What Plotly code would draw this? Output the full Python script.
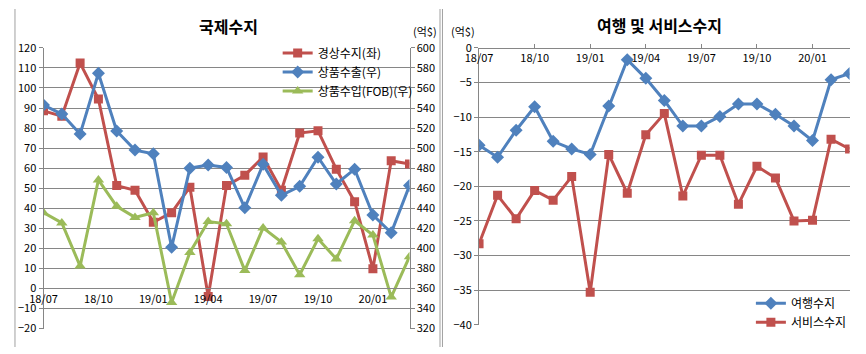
import plotly.graph_objects as go

months = ["18/07", "18/08", "18/09", "18/10", "18/11", "18/12", "19/01", "19/02", "19/03",
          "19/04", "19/05", "19/06", "19/07", "19/08", "19/09", "19/10", "19/11", "19/12",
          "20/01", "20/02", "20/03"]
tick_labels = ["18/07", "18/10", "19/01", "19/04", "19/07", "19/10", "20/01"]

current_account = [88.6, 85.9, 112.4, 94.5, 51.3, 49.0, 33.0, 37.8, 50.5, -4.0, 51.3, 56.5,
                   65.6, 49.0, 77.5, 78.6, 59.5, 43.3, 9.8, 63.7, 62.1]
goods_exports = [543, 534, 514, 574.7, 517, 498, 494.3, 401, 480, 483.2, 480.7, 440.4,
                 483.8, 453, 461.9, 491, 464.2, 479, 433.3, 415.6, 462.6]
goods_imports = [435.6, 425.4, 382.3, 468.3, 442, 430.9, 435.6, 346, 396, 426.7, 424.5, 377.8,
                 420.4, 406.4, 373.7, 409.5, 389.5, 427.6, 413.3, 351.4, 391.7]

travel = [-14.07, -15.8, -11.9, -8.5, -13.5, -14.6, -15.4, -8.4, -1.7, -4.4, -7.6, -11.3,
          -11.3, -9.9, -8.1, -8.1, -9.6, -11.3, -13.4, -4.6, -3.7]
services = [-28.3, -21.3, -24.7, -20.6, -22.0, -18.6, -35.3, -15.4, -21.0, -12.55, -9.5, -21.4,
            -15.5, -15.5, -22.6, -17.1, -18.8, -25.0, -24.9, -13.2, -14.6]

RED = "#C0504D"
BLUE = "#4F81BD"
GREEN = "#9BBB59"
GRID = "#868686"
FONT = "Noto Sans CJK KR"

W, H = 866, 354
def px(x):
    return x / W
def py(y):
    return 1 - y / H

fig = go.Figure()

fig.add_trace(go.Scatter(x=months, y=current_account, name="경상수지(좌)", mode="lines+markers",
                         line=dict(color=RED, width=3), marker=dict(symbol="square", size=9, color=RED),
                         xaxis="x", yaxis="y", legend="legend"))
fig.add_trace(go.Scatter(x=months, y=goods_exports, name="상품수출(우)", mode="lines+markers",
                         line=dict(color=BLUE, width=3), marker=dict(symbol="diamond", size=10, color=BLUE),
                         xaxis="x", yaxis="y2", legend="legend"))
fig.add_trace(go.Scatter(x=months, y=goods_imports, name="상품수입(FOB)(우)", mode="lines+markers",
                         line=dict(color=GREEN, width=3), marker=dict(symbol="triangle-up", size=10, color=GREEN),
                         xaxis="x", yaxis="y2", legend="legend"))

fig.add_trace(go.Scatter(x=months, y=travel, name="여행수지", mode="lines+markers",
                         line=dict(color=BLUE, width=3), marker=dict(symbol="diamond", size=10, color=BLUE),
                         xaxis="x2", yaxis="y3", legend="legend2"))
fig.add_trace(go.Scatter(x=months, y=services, name="서비스수지", mode="lines+markers",
                         line=dict(color=RED, width=3), marker=dict(symbol="square", size=9, color=RED),
                         xaxis="x2", yaxis="y3", legend="legend2"))

tick_font = dict(family=FONT, size=11, color="#000000")

left_dom = [px(30), px(402)]
right_dom = [px(472.7), px(849.3)]
ydom_left = [py(334.7), py(40.7)]
ydom_right = [py(330.7), py(40.7)]

fig.update_layout(
    width=W, height=H,
    margin=dict(l=0, r=0, t=0, b=0),
    paper_bgcolor="white", plot_bgcolor="white",
    font=dict(family=FONT, size=11, color="#000000"),
    xaxis=dict(domain=left_dom, type="category", range=[0, 20], anchor="free",
               position=py(292.7), side="bottom", tickmode="array", tickvals=tick_labels,
               ticktext=tick_labels, showgrid=False, showline=True, linecolor=GRID, linewidth=1,
               ticks="", tickfont=tick_font, zeroline=False, fixedrange=True),
    yaxis=dict(domain=ydom_left, range=[-20, 120], dtick=10, tick0=0, showgrid=True,
               gridcolor=GRID, gridwidth=1, showline=True, linecolor=GRID, zeroline=False,
               ticks="outside", ticklen=4, tickcolor=GRID, tickfont=tick_font, anchor="x"),
    yaxis2=dict(domain=ydom_left, range=[320, 600], dtick=20, tick0=320, overlaying="y",
                side="right", anchor="x", showgrid=False, showline=True, linecolor=GRID,
                zeroline=False, ticks="outside", ticklen=4, tickcolor=GRID, tickfont=tick_font),
    xaxis2=dict(domain=right_dom, type="category", range=[0, 20], anchor="free",
                position=py(40.7), side="bottom", tickmode="array", tickvals=tick_labels,
                ticktext=tick_labels, showgrid=False, showline=True, linecolor=GRID, linewidth=1,
                ticks="inside", ticklen=4, tickcolor=GRID, tickfont=tick_font, zeroline=False),
    yaxis3=dict(domain=ydom_right, range=[-40, 0], dtick=5, tick0=0, showgrid=True,
                gridcolor=GRID, gridwidth=1, showline=True, linecolor=GRID, zeroline=False,
                ticks="outside", ticklen=4, tickcolor=GRID, tickfont=tick_font, anchor="x2"),
    legend=dict(x=px(268), y=py(31), xanchor="left", yanchor="top", bgcolor="rgba(255,255,255,0)",
                font=dict(family=FONT, size=12, color="#000000"), tracegroupgap=0,
                itemwidth=30),
    legend2=dict(x=px(749), y=py(293), xanchor="left", yanchor="top", bgcolor="rgba(255,255,255,0)",
                 font=dict(family=FONT, size=12, color="#000000"), tracegroupgap=0,
                 itemwidth=30),
    showlegend=True,
)

fig.add_annotation(text="<b>국제수지</b>", x=px(218), y=py(18), xref="paper", yref="paper",
                   showarrow=False, font=dict(family=FONT, size=16, color="#000000"), xanchor="center", yanchor="middle")
fig.add_annotation(text="<b>여행 및 서비스수지</b>", x=px(656), y=py(17), xref="paper", yref="paper",
                   showarrow=False, font=dict(family=FONT, size=16, color="#000000"), xanchor="center", yanchor="middle")
fig.add_annotation(text="(억$)", x=px(404), y=py(23), xref="paper", yref="paper",
                   showarrow=False, font=tick_font, xanchor="left", yanchor="middle")
fig.add_annotation(text="(억$)", x=px(442), y=py(23), xref="paper", yref="paper",
                   showarrow=False, font=tick_font, xanchor="left", yanchor="middle")

for x0 in (1, 433, 435.5):
    fig.add_shape(type="line", xref="paper", yref="paper", x0=px(x0), x1=px(x0), y0=0, y1=1,
                  line=dict(color="#A0A0A0", width=1))

fig.write_html("out.html")
